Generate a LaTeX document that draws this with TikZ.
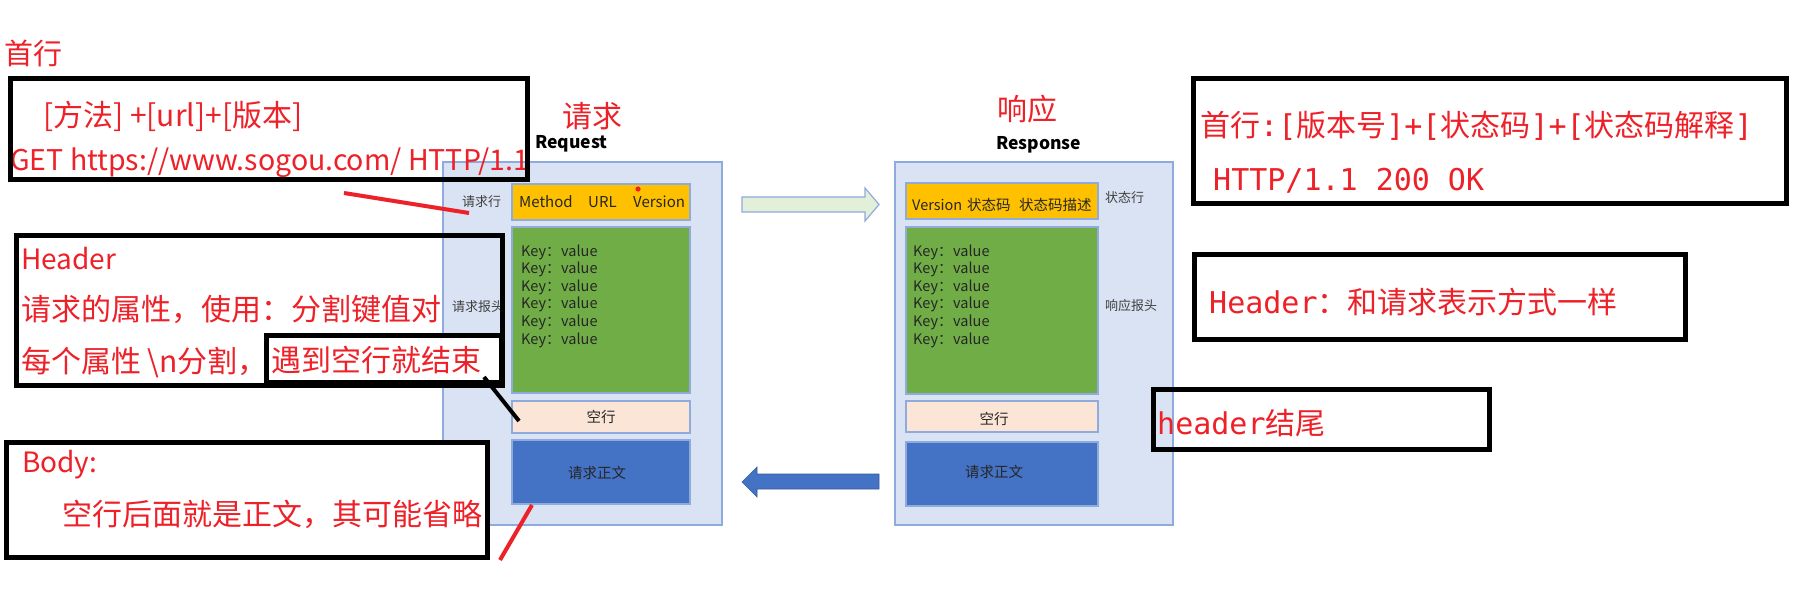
\documentclass[tikz,border=0pt]{standalone}
\usepackage{fontspec}
\setmainfont{Noto Sans CJK SC}
\newfontfamily\monof{DejaVu Sans Mono}
\definecolor{redT}{RGB}{238,32,40}
\definecolor{panelFill}{RGB}{218,227,243}
\definecolor{panelLine}{RGB}{143,170,220}
\definecolor{yel}{RGB}{255,192,0}
\definecolor{grn}{RGB}{112,173,71}
\definecolor{peach}{RGB}{251,229,214}
\definecolor{blu}{RGB}{68,114,196}
\definecolor{lgrn}{RGB}{226,240,217}
\definecolor{lbl}{RGB}{64,64,64}
\definecolor{dark}{RGB}{38,38,38}
\newcommand{\fs}[1]{\fontsize{#1}{#1}\selectfont}
\begin{document}
\begin{tikzpicture}[x=1pt,y=-1pt,
  panel/.style={draw=panelLine,line width=1.5pt,fill=panelFill,inner sep=0pt},
  part/.style={draw=panelLine,line width=1.2pt,inner sep=0pt},
  frame/.style={draw=black,line width=5pt,inner sep=0pt},
  rt/.style={text=redT,inner sep=0pt,anchor=west},
  lb/.style={text=lbl,inner sep=0pt,anchor=west,font=\fs{13}},
  bt/.style={text=dark,inner sep=0pt,anchor=west,font=\fs{15}},
  kv/.style={text=dark,inner sep=0pt,anchor=west,align=left,font=\fontsize{14.5}{17.6}\selectfont},
  redline/.style={draw=redT,line width=4pt},
  blackline/.style={draw=black,line width=4pt}]
\useasboundingbox[fill=white] (0,0) rectangle (1809,593);

% ---------- request panel ----------
\node[panel,minimum width=279,minimum height=363] (reqp) at (582.5,343.5) {};
\node[part,fill=yel,minimum width=178,minimum height=36] (reqline) at (601,202) {};
\node[part,fill=grn,minimum width=178,minimum height=166] (reqhead) at (601,310) {};
\node[part,fill=peach,minimum width=178,minimum height=32] (reqempty) at (601,417) {};
\node[part,fill=blu,minimum width=178,minimum height=64] (reqbody) at (601,472) {};
\node[bt] (tm) at (519,202) {Method};
\node[bt] (tu) at (588,202) {URL};
\node[bt] (tv) at (633,202) {Version};
\fill[redT] (638,189) circle (2.6);
\node[kv] (reqkv) at (521,296) {\makebox[40pt][l]{Key：}value\\\makebox[40pt][l]{Key：}value\\\makebox[40pt][l]{Key：}value\\\makebox[40pt][l]{Key：}value\\\makebox[40pt][l]{Key：}value\\\makebox[40pt][l]{Key：}value};
\node[text=dark,inner sep=0pt,font=\fs{14.5}] (reqemptyt) at (reqempty) {空行};
\node[text=dark,inner sep=0pt,font=\fs{14.5}] (reqbodyt) at (597,473) {请求正文};
\node[lb] (lbl1) at (462,202) {请求行};
\node[lb] (lbl2) at (452,307) {请求报头};
\node[rt,font=\fs{30}] (reqtitle) at (562,116) {请求};
\node[inner sep=0pt,anchor=west,font=\fs{17.5}\bfseries] (reqen) at (535,144) {Request};

% ---------- response panel ----------
\node[panel,minimum width=278,minimum height=363] (resp) at (1034,343.5) {};
\node[part,fill=yel,minimum width=192,minimum height=36] (resline) at (1002,201) {};
\node[part,fill=grn,minimum width=192,minimum height=167] (reshead) at (1002,310.5) {};
\node[part,fill=peach,minimum width=192,minimum height=31] (resempty) at (1002,416.5) {};
\node[part,fill=blu,minimum width=192,minimum height=64] (resbody) at (1002,474) {};
\node[bt,font=\fs{14.5}] (rv) at (912,205) {Version};
\node[bt,font=\fs{14.5}] (rs) at (967,205) {状态码};
\node[bt,font=\fs{14.5}] (rd) at (1019,205) {状态码描述};
\node[kv] (reskv) at (913,296) {\makebox[40pt][l]{Key：}value\\\makebox[40pt][l]{Key：}value\\\makebox[40pt][l]{Key：}value\\\makebox[40pt][l]{Key：}value\\\makebox[40pt][l]{Key：}value\\\makebox[40pt][l]{Key：}value};
\node[text=dark,inner sep=0pt,font=\fs{14.5}] (resemptyt) at (994,419) {空行};
\node[text=dark,inner sep=0pt,font=\fs{14.5}] (resbodyt) at (994,472) {请求正文};
\node[lb] (lbl3) at (1105,198) {状态行};
\node[lb] (lbl4) at (1105,306) {响应报头};
\node[rt,font=\fs{30}] (restitle) at (997,109) {响应};
\node[inner sep=0pt,anchor=west,font=\fs{17.5}\bfseries] (resen) at (996,145) {Response};

% ---------- arrows ----------
\filldraw[fill=lgrn,draw=panelLine,line width=1.2pt] (742,197) -- (865,197) -- (865,188) -- (879,204.5) -- (865,221) -- (865,212) -- (742,212) -- cycle;
\filldraw[fill=blu,draw=blu!80!black,line width=0.6pt] (879,474) -- (757,474) -- (757,467) -- (742,482) -- (757,497) -- (757,489) -- (879,489) -- cycle;

% ---------- left annotations ----------
\node[rt,font=\fs{29}] (first) at (4,53) {首行};
\node[rt,font=\fs{30}] (t1a) at (43,116) {[方法] +[url]+[版本]};
\node[rt,font=\fs{28.5}] (t1b) at (10,163) {GET https://www.sogou.com/ HTTP/1.1};
\draw[frame] (10.5,78.5) rectangle (527.5,179.5);
\coordinate (c1a) at (344,193);
\coordinate (c1b) at (469,213);
\draw[redline] (c1a) -- (c1b);

\draw[frame] (16.5,235.5) rectangle (502.5,385.5);
\node[rt,font=\fs{28}] (h1) at (21,259) {Header};
\node[rt,font=\fs{30}] (h2) at (21,309) {请求的属性，使用：分割键值对};
\node[rt,font=\fs{30}] (h3) at (21,362) {每个属性 \textbackslash n分割，};
\draw[frame,fill=white] (266.5,335.5) rectangle (501.5,382.5);
\node[rt,font=\fs{30}] (h4) at (271,360) {遇到空行就结束};
\coordinate (c2a) at (484,377);
\coordinate (c2b) at (519,421);
\draw[blackline] (c2a) -- (c2b);

\draw[frame,fill=white] (6.5,442.5) rectangle (487.5,557.5);
\node[rt,font=\fs{28}] (b1) at (22,465) {Body:};
\node[rt,font=\fs{30}] (b2) at (62,514) {空行后面就是正文，其可能省略};
\coordinate (c3a) at (532,505);
\coordinate (c3b) at (500,560);
\draw[redline] (c3a) -- (c3b);

% ---------- right annotations ----------
\draw[frame] (1193.5,78.5) rectangle (1786.5,203.5);
\node[rt,font=\fs{30}] (r1) at (1200,126) {首行{\monof :[}版本号{\monof ]+[}状态码{\monof ]+[}状态码解释{\monof ]}};
\node[rt,font=\fs{30}\monof] (r2) at (1213,181) {HTTP/1.1 200 OK};
\draw[frame] (1194.5,254.5) rectangle (1685.5,339.5);
\node[rt,font=\fs{30}] (r3) at (1209,302) {{\monof Header}：和请求表示方式一样};
\draw[frame] (1153.5,389.5) rectangle (1489.5,449.5);
\node[rt,font=\fs{30}] (r4) at (1157,423) {{\monof header}结尾};
\end{tikzpicture}
\end{document}
